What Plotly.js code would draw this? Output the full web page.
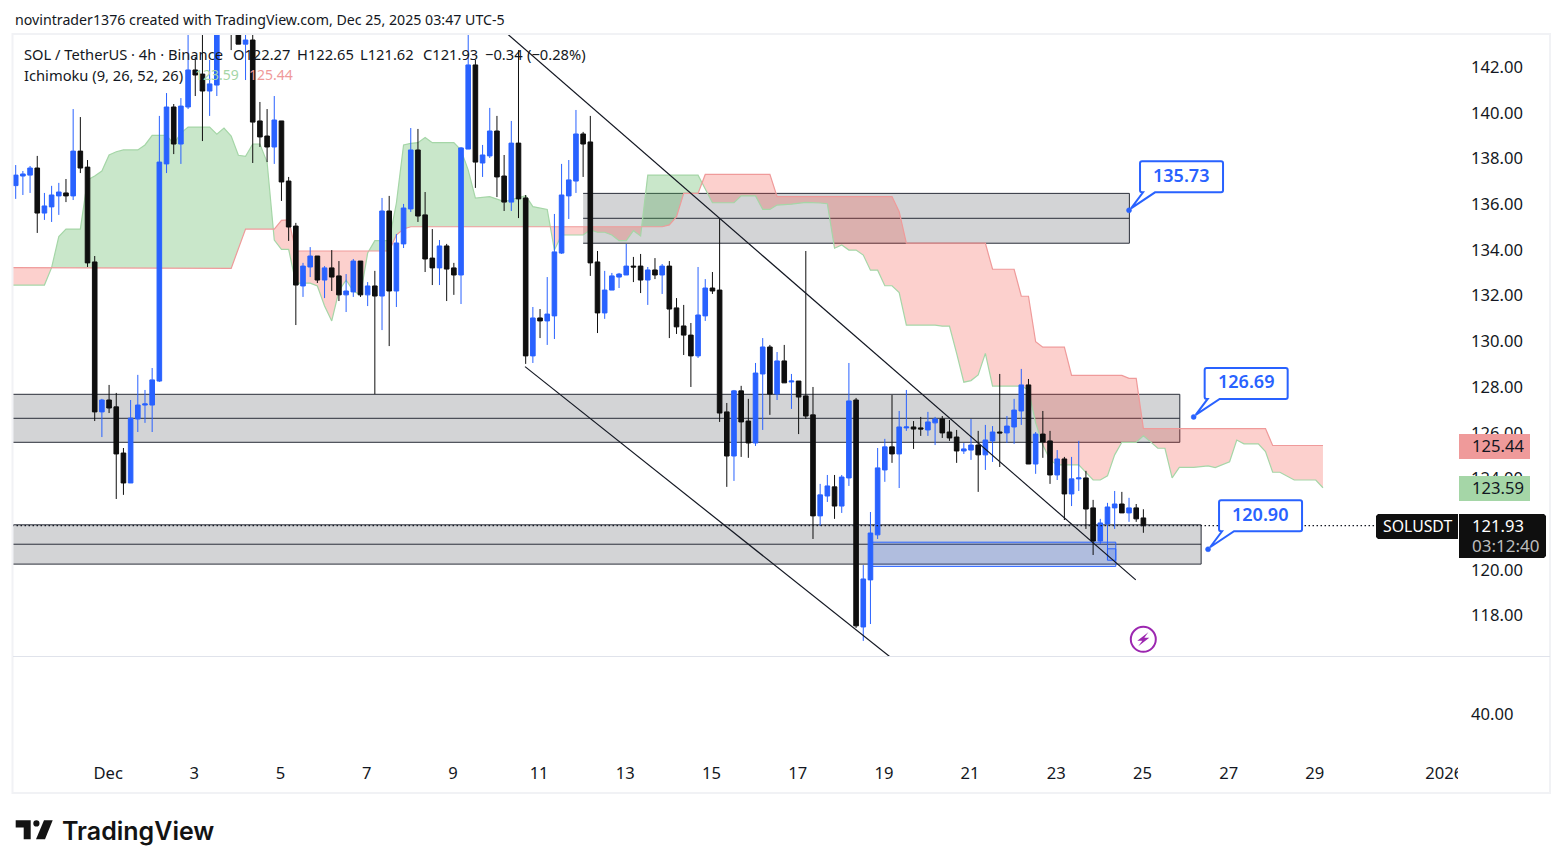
<!DOCTYPE html>
<html><head><meta charset="utf-8">
<script src="https://cdn.plot.ly/plotly-3.0.1.min.js"></script>
<style>html,body{margin:0;padding:0;background:#fff;overflow:hidden}#chart{width:1563px;height:868px}</style>
</head><body><div id="chart"></div>
<script>
// ---- candles (SOL / TetherUS, 4h) ----
const candleDirection = [
"uuuduuudud","dduddduuuu","uuduudduud","dduddduddd","uududduudu","duduuudddu","dduuduuddu","dduduuuuud",
"dduuuuddud","uddddzuddd".replace("z","u"),"udduududud","dduuduuduu","uuduudduud","dduuduuduu","ududduduud","duuududd"].join("");
const highs = [
137.71,137.45,137.67,138.11,136.49,136.80,136.93,137.10,140.16,139.81,
137.93,133.73,127.48,128.09,127.74,125.33,127.43,128.53,127.87,128.83,
139.86,140.86,140.38,140.64,143.80,142.44,143.80,142.31,144.50,145.20,
144.80,144.20,143.70,143.70,140.47,140.16,140.73,139.64,137.19,135.18,
133.43,134.12,133.73,133.29,133.99,133.51,132.94,133.60,133.51,132.59,
133.08,136.27,136.36,134.69,136.01,139.33,139.29,136.53,134.91,134.43,
134.26,133.43,138.50,143.80,142.31,138.59,140.21,139.86,138.15,139.64,
142.74,136.40,131.50,131.41,132.81,135.57,137.76,137.93,140.12,139.16,
139.86,133.95,133.08,132.99,132.99,134.26,133.69,133.82,133.25,133.64,
133.38,133.51,131.89,131.59,130.80,133.25,132.72,133.03,135.39,127.30,
127.87,128.05,127.48,129.05,130.14,129.84,129.53,129.84,128.57,128.26,
133.95,128.00,123.76,124.15,124.15,124.15,129.05,127.52,120.21,122.53,
125.33,125.73,127.65,126.95,127.87,126.51,126.69,126.91,126.69,126.73,
126.56,126.12,125.55,126.60,126.08,126.34,126.29,128.57,126.73,127.48,
128.79,128.35,126.03,126.95,126.08,125.24,124.94,124.94,125.64,124.33,
123.06,122.23,122.93,123.45,123.41,123.15,122.88,122.65];
const bodyTops = [
137.27,137.32,137.58,137.58,135.92,136.40,136.53,136.49,138.32,138.32,
137.62,133.47,127.43,127.43,127.13,125.11,126.64,127.21,127.26,128.31,
137.84,140.25,140.25,140.29,141.87,141.87,141.69,141.26,144.00,144.90,
144.50,143.90,143.18,143.18,139.64,138.98,139.68,139.64,137.01,135.04,
133.29,133.73,133.73,133.21,133.21,132.86,132.20,133.51,133.51,132.42,
132.42,135.70,135.70,134.30,135.83,138.37,138.37,135.53,133.64,134.17,
134.17,133.21,138.46,142.09,142.09,138.15,139.20,139.20,137.23,138.67,
138.67,136.27,131.02,131.02,131.19,133.91,136.40,137.06,139.07,139.07,
138.72,133.47,132.24,132.86,132.94,133.29,133.29,133.29,133.12,133.12,
133.29,133.29,131.46,130.67,130.27,131.15,132.33,132.33,132.24,126.91,
127.83,127.83,126.51,128.61,129.75,129.75,129.14,129.14,128.26,128.26,
127.61,126.78,123.28,123.67,123.63,124.06,127.39,127.43,119.60,121.61,
124.46,125.38,125.38,126.25,126.25,126.25,126.21,126.47,126.60,126.60,
126.03,125.81,125.29,125.46,125.46,125.68,126.03,126.03,126.29,126.99,
128.09,128.09,125.94,125.94,125.64,124.85,124.85,123.98,124.02,124.02,
122.71,122.05,122.75,122.88,122.88,122.71,122.71,122.27];
const bodyBottoms = [
136.81,137.23,137.27,135.61,135.61,135.88,136.36,136.36,136.36,137.58,
133.43,126.91,126.91,127.08,125.07,123.80,123.80,126.60,127.21,127.21,
128.26,137.76,138.63,138.63,140.25,141.65,140.95,140.95,141.21,144.20,
143.75,143.00,143.00,139.59,138.94,138.50,138.50,136.97,135.00,132.46,
132.42,133.25,132.68,132.68,132.81,132.03,132.03,132.16,132.03,132.03,
131.98,131.98,132.20,132.20,134.26,135.79,135.48,133.60,133.21,133.21,
133.16,132.90,132.90,138.41,137.84,137.80,138.11,137.19,136.09,136.09,
136.23,129.36,129.36,130.89,130.89,131.11,133.86,136.36,137.01,138.63,
133.43,131.24,131.24,132.24,132.81,132.90,133.25,132.68,132.68,132.90,
132.90,131.41,130.63,130.27,129.36,129.36,131.11,132.20,126.86,124.98,
124.98,126.47,125.55,125.55,128.57,127.69,127.69,128.18,128.22,127.56,
126.73,122.36,122.36,123.23,122.79,122.79,124.02,117.55,117.50,119.56,
121.53,124.37,125.07,125.07,126.21,126.16,126.16,126.12,126.43,125.99,
125.77,125.20,125.20,125.24,125.03,125.03,125.64,125.99,125.99,126.25,
126.95,124.63,124.63,125.59,124.15,124.15,123.32,123.32,123.98,122.66,
121.26,121.26,122.01,122.71,122.49,122.49,122.23,121.93];
const lows = [
136.23,136.40,136.49,134.74,135.31,135.22,135.53,136.09,136.18,137.36,
133.25,126.51,125.81,126.86,123.10,123.28,123.80,126.03,126.43,126.03,
128.22,137.36,138.19,137.76,140.16,140.73,138.76,139.86,140.73,143.90,
142.74,143.00,141.43,137.80,138.50,137.84,137.76,136.14,134.39,130.71,
131.94,132.81,132.55,131.89,132.20,131.76,131.28,131.94,131.94,131.54,
127.69,130.49,129.79,131.50,134.08,135.66,135.22,133.03,132.46,132.46,
131.76,132.03,131.63,138.41,136.71,137.19,138.02,136.31,135.70,135.70,
135.39,129.01,129.05,130.14,129.84,130.10,133.82,135.35,136.49,137.19,
132.86,130.36,130.98,132.24,132.33,132.90,132.59,132.11,131.59,132.72,
132.07,130.14,130.32,129.40,128.00,129.27,130.89,132.07,126.47,123.63,
123.89,124.94,124.90,125.42,126.12,126.78,127.43,128.18,127.04,125.94,
126.60,121.35,121.92,122.97,122.23,122.49,123.67,117.46,116.89,117.63,
121.35,123.85,124.68,123.58,126.08,125.29,125.86,125.86,125.46,125.77,
125.64,124.68,125.07,124.81,123.41,124.37,124.72,124.50,125.55,125.51,
126.34,124.63,124.20,124.90,123.76,123.93,122.18,122.79,123.45,121.79,
120.65,121.13,120.43,121.79,122.49,122.10,122.10,121.62];

// ---- Ichimoku leading spans: bar index of each vertex, and its price ----
const leadABars = [-1,4,5,6,7,9,10,11,12,13,14,15,17,18,19,21,22,23,24,27,28,29,30,31,32,33,34,35,36,37,38,39,41,42,43,44,45,46,47,48,49,50,52,53,54,55,56,57,58,61,62,63,64,66,68,71,72,74,75,76,79,80,81,82,83,84,85,86,87,88,95,96,97,100,101,103,104,105,106,108,110,112,113,114,115,116,117,118,119,120,121,122,123,124,128,129,130,131,132,133,134,135,136,140,141,142,143,144,145,148,149,150,151,152,153,154,156,157,158,159,160,161,162,164,166,167,169,170,171,173,174,175,176,178,181,182];
const leadAValues = [132.46,132.46,133.22,134.58,134.91,134.91,137.06,137.23,137.45,138.15,138.29,138.37,138.37,138.59,139.01,139.01,138.63,139.11,139.37,139.37,139.06,139.33,138.98,138.14,138.09,138.63,138.63,137.83,134.43,134.02,134.02,132.54,132.54,132.42,131.54,130.89,132.20,132.68,132.20,132.03,133.86,134.40,134.40,136.05,138.59,138.66,138.69,138.92,138.69,138.69,138.37,137.49,136.26,136.33,136.11,136.37,135.89,135.77,133.99,134.65,134.65,134.87,134.77,134.77,134.65,134.40,134.40,134.84,134.61,137.27,137.27,136.66,136.06,136.06,136.36,136.36,135.77,135.77,135.96,136.00,136.08,136.05,136.02,134.07,134.21,133.99,133.99,133.77,133.11,133.11,132.43,132.43,132.13,130.71,130.71,130.66,130.66,129.47,128.21,128.28,128.53,129.47,128.04,128.04,127.87,126.43,125.46,124.81,124.59,124.59,124.28,123.93,123.93,124.11,125.03,125.58,125.58,125.86,125.60,125.32,125.32,124.02,124.48,124.48,124.55,124.47,124.73,125.68,125.51,125.51,125.17,124.27,124.27,123.93,123.93,123.59];
const leadBBars = [-1,30,32,36,37,38,39,52,53,54,55,90,91,92,93,95,96,105,106,122,123,124,135,136,139,140,141,142,143,146,147,154,155,156,157,174,175,182];
const leadBValues = [133.22,133.19,134.91,134.91,135.29,135.31,133.95,133.95,134.65,134.91,135.01,135.01,135.09,135.45,136.47,136.47,137.30,137.30,136.33,136.33,135.67,134.29,134.29,133.15,133.15,131.97,131.97,129.98,129.74,129.74,128.51,128.51,128.38,128.38,126.18,126.18,125.44,125.44];

// ---- drawn zones: [first bar, last bar, top, middle, bottom] ----
const zoneStarts = [79, -2, -2];
const zoneEnds = [155.05, 162.07, 165.04];
const zoneTops = [136.47, 127.68, 121.97];
const zoneMids = [135.38, 126.63, 121.12];
const zoneBottoms = [134.29, 125.58, 120.25];
const trendBars = [[68.41,155.94],[70.91,121.74]];
const trendPrices = [[143.46,119.56],[128.89,116.19]];
const calloutBars = [155, 164, 166];
const calloutPrices = [135.73, 126.69, 120.90];
const calloutTexts = ["135.73","126.69","120.90"];
const lastPrice = 121.93;
const priceTicks = [118,120,124,126,128,130,132,134,136,138,140,142];
const dayTickBars = [12.87,24.87,36.87,48.87,60.87,72.87,84.87,96.87,108.87,120.87,132.87,144.87,156.87,168.87,180.87,198.87];
const dayTickTexts = ["Dec","3","5","7","9","11","13","15","17","19","21","23","25","27","29","2026"];

// ---- helpers ----
const WIDTH = 1563, HEIGHT = 868;
const DEC1 = Date.UTC(2025,11,1);
const T = b => new Date(DEC1 + (b-12.87)*4*3600e3).toISOString().replace('T',' ').replace('Z','');
const PX = x => x/WIDTH, PY = y => 1-y/HEIGHT;
const barIdx = highs.map((_,i)=>i);
const opens = barIdx.map(i=>candleDirection[i]==='u'?bodyBottoms[i]:bodyTops[i]);
const closes = barIdx.map(i=>candleDirection[i]==='u'?bodyTops[i]:bodyBottoms[i]);
const FONT = '"Noto Sans", sans-serif', INK='#131722', BLUE='#2962FF', BLACK='#0F0F0F';
const GREEN_FILL='rgba(76,175,80,0.3)', RED_FILL='rgba(244,67,54,0.25)';
const PRICE_RANGE=[116.23,143.40];

function lerp(bars, vals, b){
  for(let k=0;k<bars.length-1;k++){
    if(b>=bars[k]&&b<=bars[k+1]) return vals[k]+(vals[k+1]-vals[k])*(b-bars[k])/(bars[k+1]-bars[k]);
  }
  return vals[vals.length-1];
}
// split the space between the two spans into green / red polygons at each crossing
function cloudTraces(){
  const bars=[...new Set([...leadABars,...leadBBars])].sort((a,b)=>a-b);
  const out=[]; let seg={a:[],b:[],bars:[]}, sign=null;
  const flush=s=>{
    const xs=[...s.bars,...[...s.bars].reverse()].map(T);
    const ys=[...s.a,...[...s.b].reverse()];
    out.push({type:'scatter',mode:'none',x:xs,y:ys,fill:'toself',fillcolor:s.sign>0?GREEN_FILL:RED_FILL,hoverinfo:'skip',showlegend:false});
  };
  bars.forEach((b,i)=>{
    const A=lerp(leadABars,leadAValues,b), B=lerp(leadBBars,leadBValues,b), s=Math.sign(A-B)||sign||1;
    if(sign!==null&&s!==sign){
      const pb=bars[i-1], pA=lerp(leadABars,leadAValues,pb), pB=lerp(leadBBars,leadBValues,pb);
      const f=(pA-pB)/((pA-pB)-(A-B)), cb=pb+(b-pb)*f, cv=pA+(A-pA)*f;
      seg.bars.push(cb);seg.a.push(cv);seg.b.push(cv);seg.sign=sign;flush(seg);
      seg={a:[cv],b:[cv],bars:[cb]};
    }
    sign=s;seg.bars.push(b);seg.a.push(A);seg.b.push(B);
  });
  seg.sign=sign;flush(seg);
  return out;
}
const polyPath=(pts)=>'M '+pts.map(p=>PX(p[0])+','+PY(p[1])).join(' L ')+' Z';

// ---- traces ----
const traces=[
  ...cloudTraces(),
  {type:'scatter',mode:'lines',x:leadABars.map(T),y:leadAValues,line:{color:'#A5D6A7',width:1.2},hoverinfo:'skip',showlegend:false},
  {type:'scatter',mode:'lines',x:leadBBars.map(T),y:leadBValues,line:{color:'#EF9A9A',width:1.2},hoverinfo:'skip',showlegend:false},
  {type:'candlestick',x:barIdx.map(T),open:opens,high:highs,low:lows,close:closes,yaxis:'y3',
    increasing:{line:{color:BLUE,width:1},fillcolor:BLUE},
    decreasing:{line:{color:BLACK,width:1},fillcolor:BLACK},
    whiskerwidth:0,showlegend:false,hoverinfo:'skip'},
  {type:'scatter',mode:'markers',x:[T(0)],y:[40],yaxis:'y2',marker:{opacity:0},hoverinfo:'skip',showlegend:false}
];

// ---- shapes ----
const shapes=[];
const ZL={color:'#2A2E39',width:1};
zoneStarts.forEach((s,i)=>{
  shapes.push({type:'rect',layer:'below',xref:'x',yref:'y',x0:T(s),x1:T(zoneEnds[i]),y0:zoneBottoms[i],y1:zoneTops[i],fillcolor:'#D3D4D6',line:{width:0}});
  [zoneTops[i],zoneMids[i],zoneBottoms[i]].forEach(p=>shapes.push({type:'line',layer:'below',xref:'x',yref:'y',x0:T(s),x1:T(zoneEnds[i]),y0:p,y1:p,line:ZL}));
  shapes.push({type:'line',layer:'below',xref:'x',yref:'y',x0:T(zoneEnds[i]),x1:T(zoneEnds[i]),y0:zoneBottoms[i],y1:zoneTops[i],line:ZL});
});
shapes.push({type:'rect',layer:'below',xref:'x',yref:'y',x0:T(119.09),x1:T(153.16),y0:120.15,y1:121.21,fillcolor:'rgba(41,98,255,0.2)',line:{color:BLUE,width:1}});
shapes.push({type:'rect',layer:'below',xref:'x',yref:'y',x0:T(152),x1:T(153.16),y0:120.42,y1:120.92,fillcolor:'rgba(41,98,255,0.2)',line:{color:BLUE,width:1}});
trendBars.forEach((b,i)=>shapes.push({type:'line',layer:'above',xref:'x',yref:'y',x0:T(b[0]),x1:T(b[1]),y0:trendPrices[i][0],y1:trendPrices[i][1],line:{color:'#131722',width:1.2}}));
shapes.push({type:'line',layer:'above',xref:'x',yref:'y',x0:T(-1),x1:T(189.4),y0:lastPrice,y1:lastPrice,line:{color:'#131722',width:1.2,dash:'1.5px,2.5px'}});
// callouts
calloutBars.forEach((b,i)=>{
  shapes.push({type:'path',layer:'above',xref:'x',yref:'y',xsizemode:'pixel',ysizemode:'pixel',xanchor:T(b),yanchor:calloutPrices[i],
    path:'M 2 2 L 14 18 L 13 18 Q 11 18 11 20 L 11 47 Q 11 49 13 49 L 92 49 Q 94 49 94 47 L 94 20 Q 94 18 92 18 L 26 18 Z',
    fillcolor:'#FFFFFF',line:{color:BLUE,width:2}});
  shapes.push({type:'circle',layer:'above',xref:'x',yref:'y',xsizemode:'pixel',ysizemode:'pixel',xanchor:T(b),yanchor:calloutPrices[i],x0:-2.5,x1:2.5,y0:-2.5,y1:2.5,fillcolor:BLUE,line:{color:BLUE,width:0.5}});
});
const paperRect=(x0,y0,x1,y1,fill,line)=>({type:'rect',layer:'above',xref:'paper',yref:'paper',x0:PX(x0),x1:PX(x1),y0:PY(y1),y1:PY(y0),fillcolor:fill,line:line||{width:0}});
// pane chrome
shapes.push(paperRect(12.5,34,1550,793,'rgba(0,0,0,0)',{color:'#F1F2F5',width:2}));
shapes.push({type:'line',layer:'above',xref:'paper',yref:'paper',x0:PX(13),x1:PX(1550),y0:PY(656.5),y1:PY(656.5),line:{color:'#E0E3EB',width:1}});
shapes.push(paperRect(1458,760,1480,785,'#FFFFFF'));
// price tags
shapes.push(paperRect(1459,434,1530,459,'#EF9A9A'));
shapes.push(paperRect(1459,476,1530,501,'#A5D6A7'));
shapes.push({type:'path',layer:'above',xref:'paper',yref:'paper',fillcolor:BLACK,line:{width:0},path:polyPath([[1459,514],[1544,514],[1546,516],[1546,556],[1544,558],[1459,558]])});
shapes.push({type:'path',layer:'above',xref:'paper',yref:'paper',fillcolor:BLACK,line:{width:0},path:polyPath([[1378,514],[1458,514],[1458,539],[1378,539],[1376,537],[1376,516]])});
// purple lightning badge
const CX=1143.3, CY=639.3;
shapes.push({type:'circle',layer:'above',xref:'paper',yref:'paper',x0:PX(CX-12.5),x1:PX(CX+12.5),y0:PY(CY+12.5),y1:PY(CY-12.5),fillcolor:'rgba(0,0,0,0)',line:{color:'#9C27B0',width:2}});
shapes.push({type:'path',layer:'above',xref:'paper',yref:'paper',fillcolor:'#9C27B0',line:{width:0},path:polyPath([[CX+5,CY-7],[CX-6,CY+1.5],[CX-1,CY+1.5],[CX-5,CY+7],[CX+6,CY-1.5],[CX+1,CY-1.5]])});
// TradingView mark
const LOGO='#131313';
shapes.push({type:'path',layer:'above',xref:'paper',yref:'paper',fillcolor:LOGO,line:{width:0},path:polyPath([[15.7,820.3],[30.7,820.3],[30.7,839.3],[23.7,839.3],[23.7,827.5],[15.7,827.5]])});
shapes.push({type:'circle',layer:'above',xref:'paper',yref:'paper',x0:PX(33.3),x1:PX(39.5),y0:PY(826.5),y1:PY(820.3),fillcolor:LOGO,line:{width:0}});
shapes.push({type:'path',layer:'above',xref:'paper',yref:'paper',fillcolor:LOGO,line:{width:0},path:polyPath([[44,820.3],[52.7,820.3],[45,839.3],[36,839.3]])});

// ---- text ----
const note=(x,y,text,opt={})=>({xref:'paper',yref:'paper',x:PX(x),y:PY(y),text,showarrow:false,xanchor:opt.anchor||'left',yanchor:'middle',borderpad:0,
  font:{family:opt.family||FONT,size:opt.size||14,color:opt.color||INK,weight:opt.weight||400}});
const annotations=[
  note(14,19,'novintrader1376 created with TradingView.com, Dec 25, 2025 03:47 UTC-5',{size:14.2}),
  note(23,53.5,'SOL / TetherUS · 4h · Binance',{size:14.7}),
  note(232,53.5,'O122.27',{size:14.7}),note(296,53.5,'H122.65',{size:14.7}),note(359,53.5,'L121.62',{size:14.7}),note(421.5,53.5,'C121.93',{size:14.7}),note(484,53.5,'−0.34',{size:14.7}),note(526,53.5,'(−0.28%)',{size:14.7}),
  note(23,74.5,'Ichimoku (9, 26, 52, 26)',{size:14.7}),
  note(194,74.5,'123.59',{size:14,color:'#A5D6A7'}),note(248,74.5,'125.44',{size:14,color:'#EF9A9A'}),
  note(1471,445.5,'125.44',{size:16.6}),note(1471,487.5,'123.59',{size:16.6}),
  note(1471,525.5,'121.93',{size:16.6,color:'#FFFFFF'}),note(1471,545.5,'03:12:40',{size:17,color:'#BDBDBD'}),
  note(1417,526,'SOLUSDT',{size:15.8,color:'#FFFFFF',anchor:'center'}),
  note(61,830.5,'TradingView',{family:'Inter, sans-serif',size:25,color:LOGO,weight:600}),
  ...calloutBars.map((b,i)=>({xref:'x',yref:'y',x:T(b),y:calloutPrices[i],xshift:52,yshift:35.5,text:calloutTexts[i],showarrow:false,
    font:{family:FONT,size:18,color:BLUE,weight:600}}))
];

const AXFONT={family:FONT,size:16.6,color:INK};
const layout={
  width:WIDTH,height:HEIGHT,paper_bgcolor:'#FFFFFF',plot_bgcolor:'#FFFFFF',
  margin:{l:0,r:0,t:0,b:0,pad:0},showlegend:false,boxgap:0.36,boxgroupgap:0,dragmode:false,hovermode:false,
  xaxis:{type:'date',domain:[PX(13),PX(1458)],range:[T(-0.376),T(200.8)],anchor:'y2',rangeslider:{visible:false},
    tickmode:'array',tickvals:dayTickBars.map(T),ticktext:dayTickTexts,ticks:'',showgrid:false,zeroline:false,showline:false,
    tickfont:AXFONT,ticklabelstandoff:7,fixedrange:true},
  yaxis:{domain:[PY(656),PY(35)],range:PRICE_RANGE,side:'right',anchor:'x',tickmode:'array',
    tickvals:priceTicks,tickformat:'.2f',ticks:'',showgrid:false,zeroline:false,showline:false,
    tickfont:AXFONT,ticklabelstandoff:12,fixedrange:true},
  yaxis2:{domain:[PY(754),PY(657)],range:[0,97],side:'right',anchor:'x',tickmode:'array',tickvals:[40],tickformat:'.2f',ticks:'',showgrid:false,zeroline:false,showline:false,
    tickfont:AXFONT,ticklabelstandoff:12,fixedrange:true},
  yaxis3:{overlaying:'y',range:PRICE_RANGE,side:'right',anchor:'x',visible:false,showgrid:false,zeroline:false,fixedrange:true},
  shapes,annotations
};
Plotly.newPlot('chart',traces,layout,{displayModeBar:false,staticPlot:true,responsive:false});
</script>
</body></html>
